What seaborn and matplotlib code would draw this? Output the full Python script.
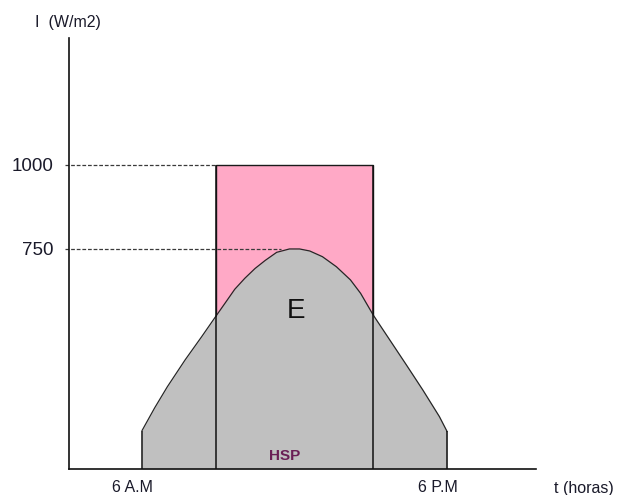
import matplotlib
matplotlib.use("Agg")
import matplotlib.pyplot as plt
import seaborn as sns
import pandas as pd
from matplotlib.patches import Rectangle

# ---- data ----
hours = [6.0, 6.5, 7.0, 7.7, 8.35, 8.9, 9.3, 9.65, 10.05, 10.45, 10.85, 11.3,
         11.8, 12.2, 12.6, 13.1, 13.65, 14.2, 14.6, 15.1, 15.75, 16.4, 17.05,
         17.7, 18.0]
irradiance = [209, 277, 340, 420, 489, 549, 592, 630, 663, 692, 716, 740,
              750, 750, 744, 727, 697, 658, 618, 553, 479, 405, 330,
              251, 207]
hsp_start = 8.9
hsp_end = 15.1
std_irradiance = 1000
peak_irradiance = 750
peak_hour = 11.45
ytick_values = [750, 1000]
ytick_labels = ["750", "1000"]
xtick_values = [6, 18]
xtick_labels = ["6 A.M", "6 P.M"]

sns.set_theme(style="white")
plt.rcParams["font.family"] = ["Liberation Sans", "DejaVu Sans"]

fig = plt.figure(figsize=(6.18, 4.95), dpi=100)
ax = fig.add_axes([69 / 618, 1 - 469 / 495, (536 - 69) / 618, (469 - 38) / 495])
x_min, x_max = 3.13, 21.5
y_min, y_max = 95, 1378
ax.set_xlim(x_min, x_max)
ax.set_ylim(y_min, y_max)

df = pd.DataFrame({"t": hours, "I": irradiance})

# pink rectangle (HSP)
ax.add_patch(Rectangle((hsp_start, y_min), hsp_end - hsp_start, std_irradiance - y_min,
                       facecolor="#ffa9c6", edgecolor="#1a1a1a", linewidth=1.0, zorder=1))

# grey energy area
ax.fill_between(df["t"], y_min, df["I"], color="#c0c0c0", linewidth=0, zorder=2)
sns.lineplot(data=df, x="t", y="I", ax=ax, color="#262626", linewidth=0.9,
             sort=False, zorder=3, estimator=None)

# vertical edges
ax.vlines([hours[0], hours[-1]], y_min, [irradiance[0], irradiance[-1]],
          colors="#111111", linewidth=1.1, zorder=4)
ax.vlines([hsp_start, hsp_end], y_min, std_irradiance, colors="#111111",
          linewidth=1.1, zorder=4)

# dashed reference lines
ax.plot([2.97, hsp_start], [std_irradiance, std_irradiance], linestyle=(0, (3, 1.5)),
        color="#3a3a3a", linewidth=0.9, clip_on=False, zorder=4)
ax.plot([2.97, peak_hour], [peak_irradiance, peak_irradiance], linestyle=(0, (3, 1.5)),
        color="#3a3a3a", linewidth=0.9, clip_on=False, zorder=4)

# spines
for s in ["top", "right"]:
    ax.spines[s].set_visible(False)
for s in ["left", "bottom"]:
    ax.spines[s].set_color("#111111")
    ax.spines[s].set_linewidth(1.2)
    ax.spines[s].set_zorder(5)

ax.set_yticks(ytick_values)
ax.set_yticklabels(ytick_labels, fontsize=13.5, color="#1a1a2a")
ax.tick_params(axis="y", length=0, pad=11)

ax.set_xticks(xtick_values)
ax.set_xticklabels([])
ax.tick_params(axis="x", direction="inout", length=8, width=1.3, color="#e8a050")
ax.set_xlabel("")
ax.set_ylabel("")

for xv, lab in zip(xtick_values, xtick_labels):
    ax.annotate(lab, xy=(xv, y_min), xytext=(-9, -19), textcoords="offset pixels",
                ha="center", va="center", fontsize=11.5, color="#1a1a2a",
                annotation_clip=False)

fig.text(584 / 618, 1 - 488 / 495, "t (horas)", ha="center", va="center",
         fontsize=11.5, color="#1a1a2a")
fig.text(68 / 618, 1 - 22 / 495, "I  (W/m2)", ha="center", va="center",
         fontsize=11.5, color="#1a1a2a")

ax.text(12.05, 565, "E", ha="center", va="center", fontsize=20, color="#111111", zorder=6)
ax.text(11.6, 133, "HSP", ha="center", va="center", fontsize=11, color="#6a1f55",
        fontweight="bold", zorder=6)

fig.savefig("out.png", dpi=100)
